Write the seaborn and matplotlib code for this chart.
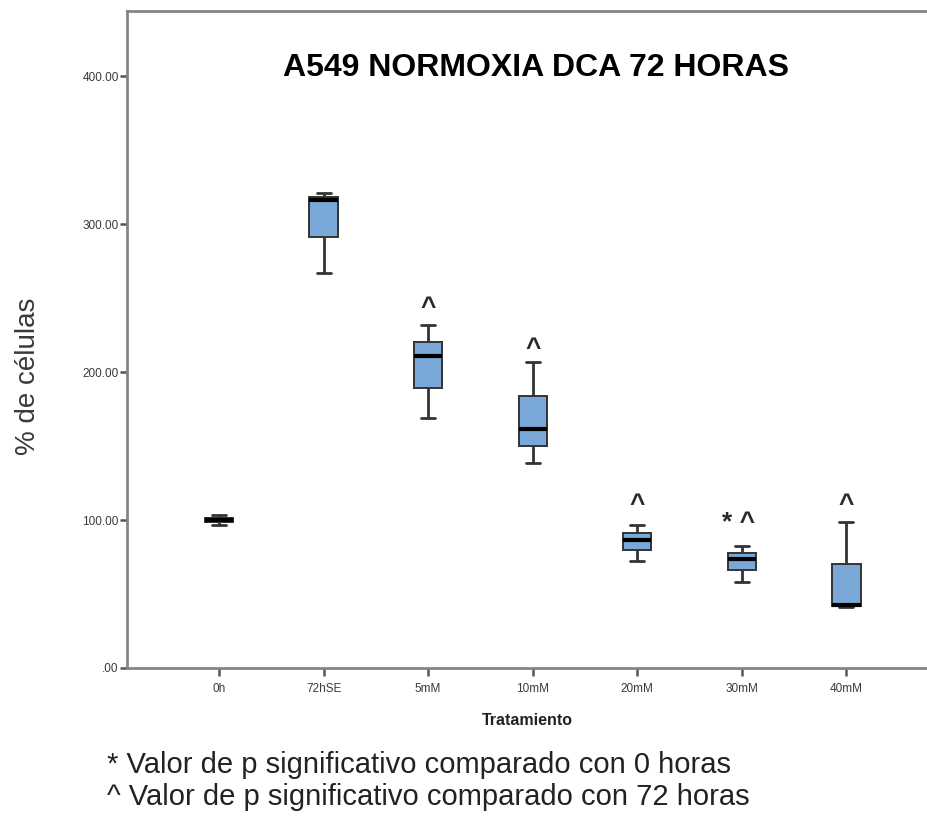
import numpy as np
import pandas as pd
import matplotlib
matplotlib.use("Agg")
import matplotlib.pyplot as plt
import seaborn as sns

# ---- data ----
categories = ["0h", "72hSE", "5mM", "10mM", "20mM", "30mM", "40mM"]
mins = [96.5, 266.7, 168.7, 138.7, 72.5, 57.9, 41.0]
q1s = [98.5, 291.0, 189.4, 150.0, 79.7, 66.0, 41.9]
medians = [100.0, 316.0, 210.8, 161.5, 86.5, 73.9, 42.6]
q3s = [101.5, 318.5, 220.5, 183.8, 91.4, 78.0, 70.3]
maxs = [103.5, 321.0, 231.8, 207.0, 96.6, 82.4, 98.4]

sig_labels = ["", "", "^", "^", "^", "* ^", "^"]
sig_y = [0, 0, 243.0, 215.5, 110.0, 98.0, 110.0]

yticks = [0, 100, 200, 300, 400]
ytick_labels = [".00", "100.00", "200.00", "300.00", "400.00"]

title = "A549 NORMOXIA DCA 72 HORAS"
xlabel = "Tratamiento"
ylabel = "% de células"
notes = ["* Valor de p significativo comparado con 0 horas",
         "^ Valor de p significativo comparado con 72 horas"]

rows = []
for c, a, b, m, d, e in zip(categories, mins, q1s, medians, q3s, maxs):
    for v in (a, b, m, d, e):
        rows.append({"Tratamiento": c, "value": v})
df = pd.DataFrame(rows)

# ---- figure ----
sns.set_style("white")
plt.rcParams["font.family"] = ["Liberation Sans", "DejaVu Sans"]

W, H = 928, 817
fig = plt.figure(figsize=(W / 100, H / 100), dpi=100)
L, R, T, B = 127, 928, 11, 668
ax = fig.add_axes([L / W, 1 - B / H, (R - L) / W, (B - T) / H])

sns.boxplot(data=df, x="Tratamiento", y="value", order=categories,
            color="#79a7d7", saturation=1, width=0.27, whis=(0, 100),
            linecolor="#333333", linewidth=1.4,
            medianprops=dict(color="black", linewidth=3),
            whiskerprops=dict(color="#333333", linewidth=2),
            capprops=dict(color="#333333", linewidth=2),
            ax=ax)

ax.set_xlim(-0.88, 6.78)
ax.set_ylim(0, 444)
ax.set_yticks(yticks)
ax.set_yticklabels(ytick_labels)

for sp in ["left", "bottom", "top"]:
    ax.spines[sp].set_color("#858585")
    ax.spines[sp].set_linewidth(2)
ax.spines["right"].set_visible(False)

ax.tick_params(axis="y", length=5, width=1.8, color="#555555", labelsize=8.5,
               labelcolor="#3a3a3a", pad=1, left=True)
ax.tick_params(axis="x", length=6, width=1.8, color="#555555", labelsize=8.5,
               labelcolor="#3a3a3a", pad=5, bottom=True)

ax.set_xlabel(xlabel, fontsize=11.5, fontweight="bold", color="#222222", labelpad=13)
ax.set_ylabel("")
fig.text(28 / W, 1 - 376 / H, ylabel, rotation=90, ha="center", va="center",
         fontsize=20, color="#3a3a3a")

# significance marks
for i, (lab, yv) in enumerate(zip(sig_labels, sig_y)):
    if lab:
        ax.text(i - (0.03 if "*" in lab else 0), yv, lab, ha="center", va="center",
                fontsize=19, fontweight="bold", color="#2a2a2a")

fig.text(536 / W, 1 - 68 / H, title, ha="center", va="center",
         fontsize=23, fontweight="bold", color="black")

fig.text(107 / W, 1 - 765 / H, notes[0], ha="left", va="center",
         fontsize=21, color="#222222")
fig.text(107 / W, 1 - 797 / H, notes[1], ha="left", va="center",
         fontsize=21, color="#222222")

fig.savefig("out.png", dpi=100)
